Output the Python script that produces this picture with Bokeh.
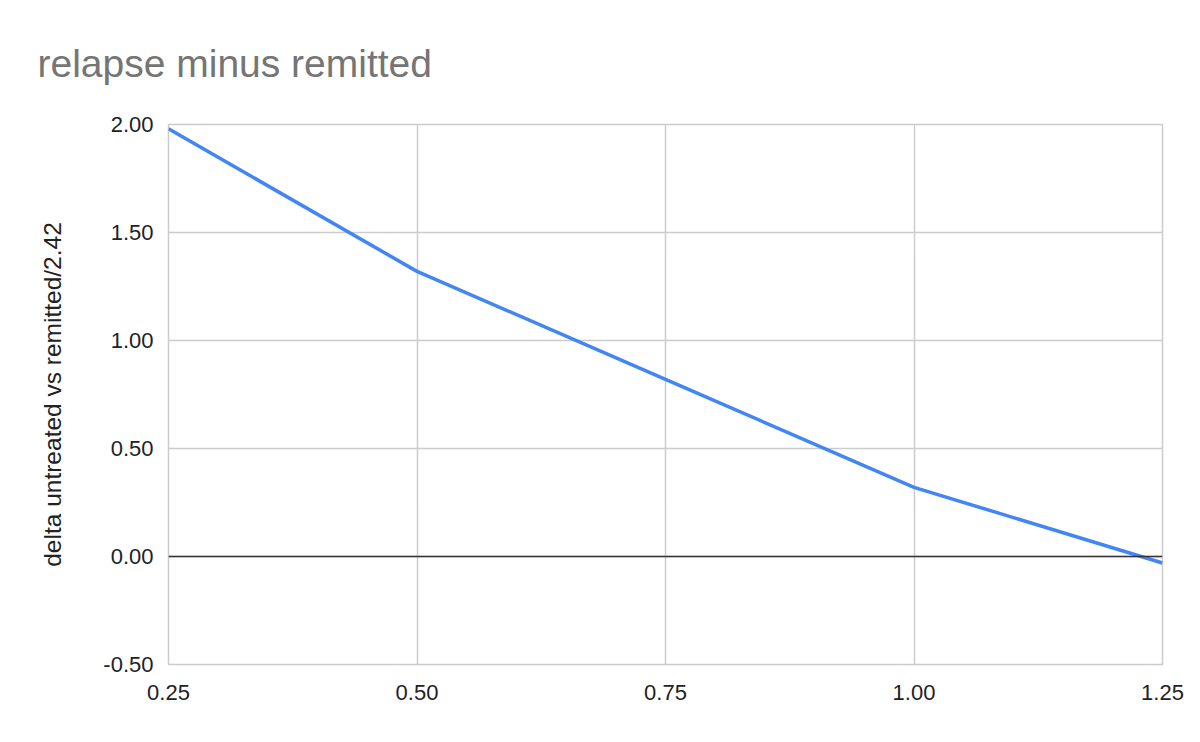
from bokeh.plotting import figure
from bokeh.models import Range1d, FixedTicker, Span, Title, CustomJSTickFormatter
from bokeh.embed import file_html
from bokeh.resources import INLINE

x_vals = [0.25, 0.50, 0.75, 1.00, 1.25]
y_vals = [1.98, 1.32, 0.82, 0.32, -0.03]
x_ticks = [0.25, 0.50, 0.75, 1.00, 1.25]
y_ticks = [-0.50, 0.00, 0.50, 1.00, 1.50, 2.00]

title_text = "relapse minus remitted"
y_label = "delta untreated vs remitted/2.42"
FONT = "Liberation Sans"

p = figure(width=1184, height=726, output_backend="svg", toolbar_location=None,
           x_range=Range1d(0.25, 1.25), y_range=Range1d(-0.5, 2.0),
           min_border_left=168, min_border_right=22, min_border_bottom=62, min_border_top=0)
p.title = None
t = Title(text=title_text, text_font=FONT, text_font_size="39px", text_color="#757575",
          text_font_style="normal", align="left", offset=-131, standoff=79)
p.add_layout(t, "above")

p.outline_line_color = "#cccccc"
p.outline_line_width = 1.5
p.background_fill_color = "white"
p.border_fill_color = "white"

for ax in (p.xaxis[0], p.yaxis[0]):
    ax.axis_line_color = None
    ax.major_tick_line_color = None
    ax.minor_tick_line_color = None
    ax.major_label_text_font = FONT
    ax.major_label_text_font_size = "22px"
    ax.major_label_text_color = "#222222"
    ax.formatter = CustomJSTickFormatter(code="return tick.toFixed(2);")

p.xaxis.ticker = FixedTicker(ticks=x_ticks)
p.yaxis.ticker = FixedTicker(ticks=y_ticks)
p.xaxis.major_label_standoff = 14
p.yaxis.major_label_standoff = 9
p.yaxis.axis_label = y_label
p.yaxis.axis_label_text_font = FONT
p.yaxis.axis_label_text_font_size = "24.5px"
p.yaxis.axis_label_text_font_style = "normal"
p.yaxis.axis_label_text_color = "#222222"
p.yaxis.axis_label_standoff = 34

p.xgrid.ticker = FixedTicker(ticks=x_ticks)
p.ygrid.ticker = FixedTicker(ticks=y_ticks)
p.xgrid.grid_line_color = "#cccccc"
p.ygrid.grid_line_color = "#cccccc"
p.xgrid.grid_line_width = 1.5
p.ygrid.grid_line_width = 1.5

p.add_layout(Span(location=0, dimension="width", line_color="#333333", line_width=1.5))

p.line(x_vals, y_vals, line_color="#4285F4", line_width=3.5)

open("out.html", "w").write(file_html(p, INLINE))
